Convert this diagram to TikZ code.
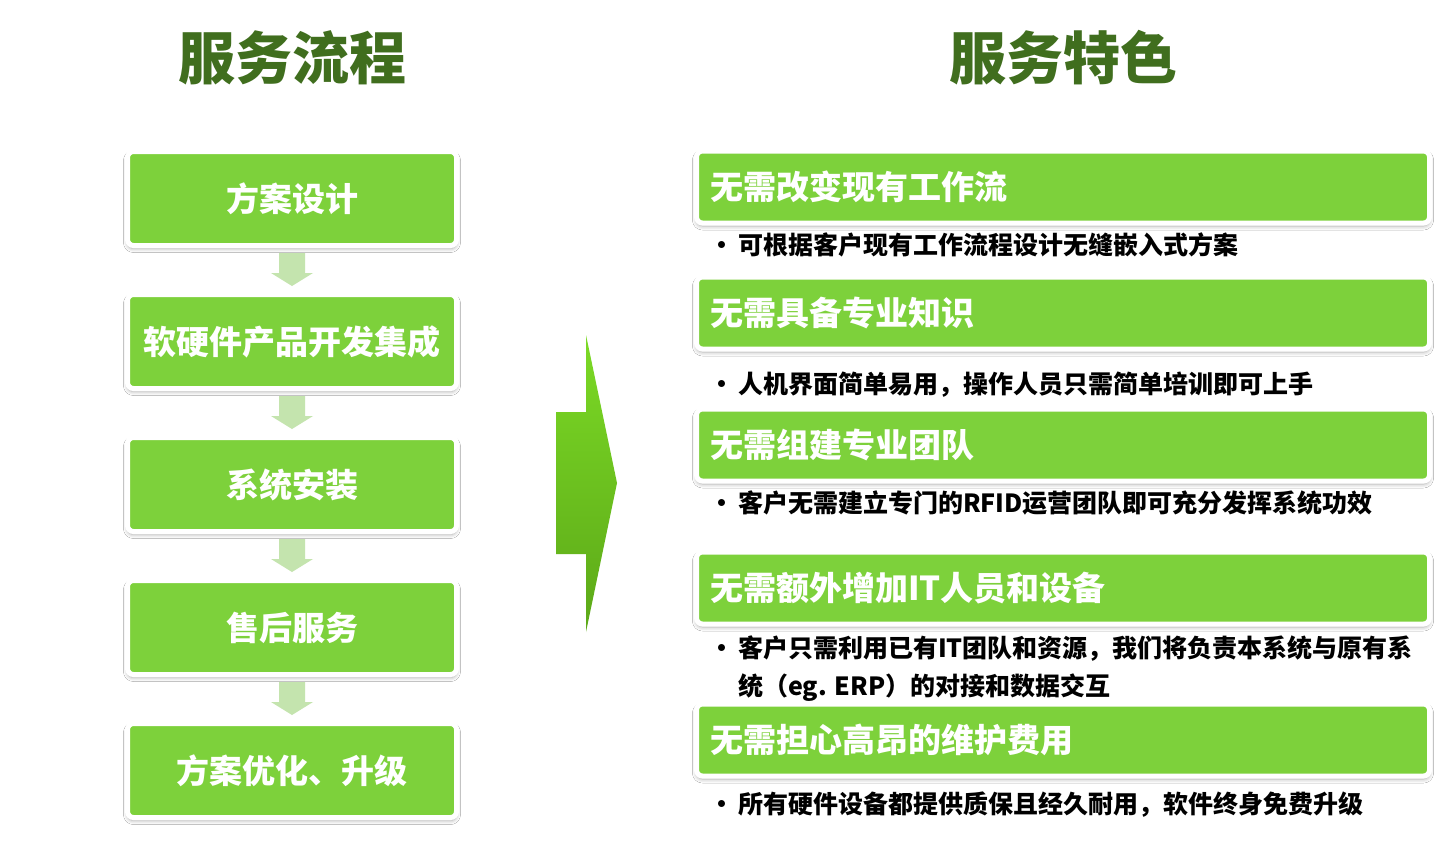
\documentclass[tikz,border=0pt]{standalone}
\usepackage{fontspec}
\newfontfamily\cjk{Noto Sans CJK SC}
\usetikzlibrary{positioning}
\usetikzlibrary{calc}
\usetikzlibrary{shadows.blur}
\definecolor{boxgreen}{RGB}{125,209,59}
\definecolor{titlegreen}{RGB}{64,110,30}
\definecolor{palegreen}{RGB}{196,228,174}
\definecolor{arrowtop}{RGB}{124,218,38}
\definecolor{arrowbot}{RGB}{92,168,24}

\tikzset{
    flowbox/.style={rectangle, rounded corners=6pt, fill=boxgreen, draw=white, line width=5pt,
        minimum width=329pt, minimum height=94pt, inner sep=0pt, text=white,
        font=\cjk\bfseries\fontsize{33}{33}\selectfont,
        blur shadow={shadow xshift=0pt, shadow yshift=-3pt, shadow blur radius=4pt, shadow opacity=35}},
    featbox/.style={flowbox, minimum width=733pt, minimum height=72pt, text width=706pt,
        align=left, inner xsep=13.5pt},
    bullettext/.style={anchor=west, inner sep=0pt, align=left,
        font=\cjk\bfseries\fontsize{25}{38}\selectfont},
    headline/.style={font=\cjk\bfseries\fontsize{57}{57}\selectfont, text=titlegreen}
}
\newcommand{\bul}{\makebox[32pt]{•}}

\begin{document}
\begin{tikzpicture}[x=1pt, y=-1pt]
    \useasboundingbox[fill=white] (0,0) rectangle (1440,847);

    % Titles
    \node[headline] (ltitle) at (292,58) {服务流程};
    \node[headline] (rtitle) at (1063,58) {服务特色};

    % Flow steps
    \node[flowbox] (s1) at (292,198.5) {方案设计};
    \node[flowbox] (s2) at (292,341.5) {软硬件产品开发集成};
    \node[flowbox] (s3) at (292,484.5) {系统安装};
    \node[flowbox] (s4) at (292,627.5) {售后服务};
    \node[flowbox] (s5) at (292,770.5) {方案优化、升级};

    % Arrows between steps
    \foreach \a/\b in {s1/s2, s2/s3, s3/s4, s4/s5} {
        \fill[palegreen] ($(\a.south)+(-13,5)$) -- ($(\a.south)+(13,5)$) -- ($(\a.south)+(13,25)$)
            -- ($(\a.south)+(21,25)$) -- ($(\b.north)+(0,-6)$) -- ($(\a.south)+(-21,25)$)
            -- ($(\a.south)+(-13,25)$) -- cycle;
    }

    % Big arrow
    \shade[top color=arrowtop, bottom color=arrowbot] (556,412) -- (586,412) -- (586,335)
        -- (617,483) -- (586,632) -- (586,554) -- (556,554) -- cycle;

    % Features
    \node[featbox] (f1) at (1063,187) {无需改变现有工作流};
    \node[featbox] (f2) at (1063,313) {无需具备专业知识};
    \node[featbox] (f3) at (1063,445) {无需组建专业团队};
    \node[featbox] (f4) at (1063,588) {无需额外增加IT人员和设备};
    \node[featbox] (f5) at (1063,740) {无需担心高昂的维护费用};

    \node[bullettext] (p1) at (706,245) {\bul 可根据客户现有工作流程设计无缝嵌入式方案};
    \node[bullettext] (p2) at (706,385) {\bul 人机界面简单易用，操作人员只需简单培训即可上手};
    \node[bullettext] (p3) at (706,503) {\bul 客户无需建立专门的RFID运营团队即可充分发挥系统功效};
    \node[bullettext] (p4) at (706,669) {\bul 客户只需利用已有IT团队和资源，我们将负责本系统与原有系\\
        \hspace*{32pt}统（eg. ERP）的对接和数据交互};
    \node[bullettext] (p5) at (706,805) {\bul 所有硬件设备都提供质保且经久耐用，软件终身免费升级};
\end{tikzpicture}
\end{document}
